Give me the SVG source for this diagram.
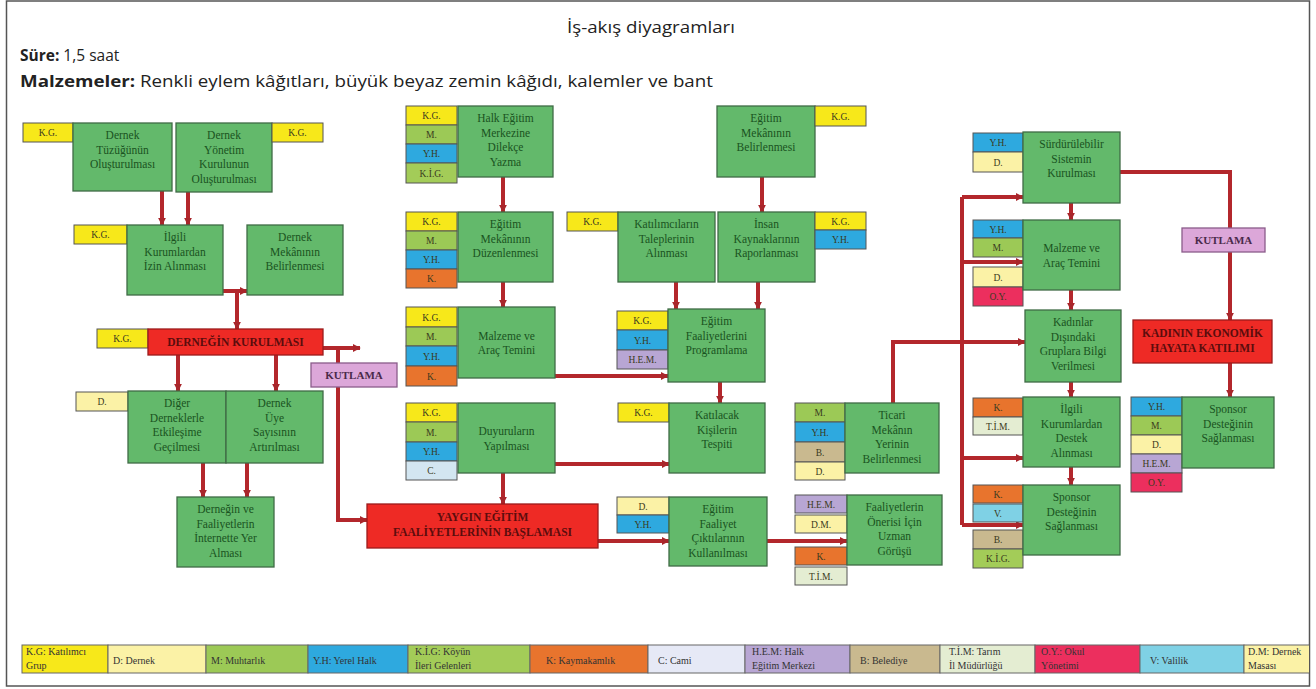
<svg xmlns="http://www.w3.org/2000/svg" width="1316" height="689" viewBox="0 0 1316 689">
<defs>
<marker id="ah" viewBox="0 0 10 10" refX="9" refY="5" markerWidth="8" markerHeight="8" markerUnits="userSpaceOnUse" orient="auto"><path d="M0,0 L10,5 L0,10 z" fill="#a8262b"/></marker>
<clipPath id="frameclip"><rect x="7" y="1" width="1302" height="685"/></clipPath>
<style>
.hd{font-family:"Open Sans","Noto Sans",sans-serif;font-size:15.5px;fill:#222}
.n{fill:#63b96b;stroke:#3f6b45;stroke-width:1.3}
.nt{font-family:"Liberation Serif",serif;font-size:11.5px;fill:#1a5321;text-anchor:middle}
.r{fill:#ee2a25;stroke:#9c1b1b;stroke-width:1.3}
.rt{font-family:"Liberation Serif",serif;font-size:11.5px;font-weight:bold;fill:#5b0d0d;text-anchor:middle}
.ku{fill:#dca7d9;stroke:#8a5c8a;stroke-width:1.3}
.kt{font-family:"Liberation Serif",serif;font-size:11px;font-weight:bold;fill:#4a2a4a;text-anchor:middle}
.t{stroke:#555;stroke-width:1}
.tt{font-family:"Liberation Serif",serif;font-size:9.5px;text-anchor:middle;fill:#3a3a20}
.kg{fill:#f7e81a}.d{fill:#fbf2a6}.m{fill:#9cc956}.yh{fill:#2ea9df}.kig{fill:#a3cc58}.k{fill:#e8742d}.c{fill:#d3e6f1}.hem{fill:#b8a6d4}.b{fill:#c9b98f}.tim{fill:#e4edd2}.oy{fill:#ec2f5e}.v{fill:#7fd1e5}.dm{fill:#fbf2a6}
.con{fill:none;stroke:#b3272c;stroke-width:4}
.lg{stroke:#666;stroke-width:1}
.lt{font-family:"Liberation Serif",serif;font-size:10px;fill:#333}
</style>
</defs>
<rect x="6.5" y="1" width="1303" height="685" fill="#fff" stroke="#555" stroke-width="1.5"/>
<g id="header">
<text class="hd" x="651" y="33" text-anchor="middle" textLength="168" lengthAdjust="spacingAndGlyphs">İş-akış diyagramları</text>
<text class="hd" x="20" y="61"><tspan font-weight="bold">Süre:</tspan> 1,5 saat</text>
<text class="hd" x="20" y="87" textLength="693" lengthAdjust="spacingAndGlyphs"><tspan font-weight="bold">Malzemeler:</tspan> Renkli eylem kâğıtları, büyük beyaz zemin kâğıdı, kalemler ve bant</text>
</g>
<g id="connectors">
<path class="con" d="M162,191 V225" marker-end="url(#ah)"/>
<path class="con" d="M188,192 V225" marker-end="url(#ah)"/>
<path class="con" d="M223,291 H247" marker-end="url(#ah)"/>
<path class="con" d="M237,291 V329" marker-end="url(#ah)"/>
<path class="con" d="M323,348 H360" marker-end="url(#ah)"/>
<path class="con" d="M338,348 V520 H367" marker-end="url(#ah)"/>
<path class="con" d="M178,355 V391" marker-end="url(#ah)"/>
<path class="con" d="M276,355 V391" marker-end="url(#ah)"/>
<path class="con" d="M203,463 V497" marker-end="url(#ah)"/>
<path class="con" d="M247,463 V497" marker-end="url(#ah)"/>
<path class="con" d="M503,177 V212" marker-end="url(#ah)"/>
<path class="con" d="M503,282 V307" marker-end="url(#ah)"/>
<path class="con" d="M555,376 H668" marker-end="url(#ah)"/>
<path class="con" d="M555,464 H669" marker-end="url(#ah)"/>
<path class="con" d="M503,473 V504" marker-end="url(#ah)"/>
<path class="con" d="M598,541 H669" marker-end="url(#ah)"/>
<path class="con" d="M762,177 V212" marker-end="url(#ah)"/>
<path class="con" d="M676,282 V309" marker-end="url(#ah)"/>
<path class="con" d="M758,282 V309" marker-end="url(#ah)"/>
<path class="con" d="M720,382 V403" marker-end="url(#ah)"/>
<path class="con" d="M767,541 H847" marker-end="url(#ah)"/>
<path class="con" d="M893,403 V342 H1025" marker-end="url(#ah)"/>
<path class="con" d="M962,525 V197"/>
<path class="con" d="M962,197 H1023" marker-end="url(#ah)"/>
<path class="con" d="M962,262 H1023" marker-end="url(#ah)"/>
<path class="con" d="M962,458 H1023" marker-end="url(#ah)"/>
<path class="con" d="M962,525 H1023" marker-end="url(#ah)"/>
<path class="con" d="M1120,172 H1230 V320" marker-end="url(#ah)"/>
<path class="con" d="M1230,363 V397" marker-end="url(#ah)"/>
<path class="con" d="M1071,203 V220" marker-end="url(#ah)"/>
<path class="con" d="M1071,290 V310" marker-end="url(#ah)"/>
<path class="con" d="M1071,382 V397" marker-end="url(#ah)"/>
<path class="con" d="M1071,467 V485" marker-end="url(#ah)"/>
</g>
<g id="n1"><rect class="t kg" x="23" y="123" width="50" height="19"/><text class="tt" x="48" y="136">K.G.</text><rect class="n" x="73" y="123" width="99" height="68"/><text class="nt" x="122.5" y="139">Dernek</text><text class="nt" x="122.5" y="153.5">Tüzüğünün</text><text class="nt" x="122.5" y="168">Oluşturulması</text></g>
<g id="n2"><rect class="n" x="176" y="123" width="96" height="69"/><text class="nt" x="224" y="139">Dernek</text><text class="nt" x="224" y="153.5">Yönetim</text><text class="nt" x="224" y="168">Kurulunun</text><text class="nt" x="224" y="182.5">Oluşturulması</text><rect class="t kg" x="272" y="123" width="51" height="19"/><text class="tt" x="297.5" y="136">K.G.</text></g>
<g id="n3"><rect class="t kg" x="74" y="225" width="53" height="19"/><text class="tt" x="100.5" y="238">K.G.</text><rect class="n" x="127" y="225" width="96" height="70"/><text class="nt" x="175" y="241">İlgili</text><text class="nt" x="175" y="255.5">Kurumlardan</text><text class="nt" x="175" y="270">İzin Alınması</text></g>
<g id="n4"><rect class="n" x="247" y="225" width="96" height="70"/><text class="nt" x="295" y="241">Dernek</text><text class="nt" x="295" y="255.5">Mekânının</text><text class="nt" x="295" y="270">Belirlenmesi</text></g>
<g id="n5"><rect class="t kg" x="97" y="329" width="51" height="19"/><text class="tt" x="122.5" y="342">K.G.</text><rect class="r" x="148" y="329" width="175" height="26"/><text class="rt" x="235.5" y="346">DERNEĞİN KURULMASI</text></g>
<g id="kutlama1"><rect class="ku" x="311" y="363" width="86" height="24"/><text class="kt" x="354" y="379">KUTLAMA</text></g>
<g id="n6"><rect class="t d" x="76" y="392" width="52" height="19"/><text class="tt" x="102" y="405">D.</text><rect class="n" x="128" y="391" width="98" height="72"/><text class="nt" x="177" y="407">Diğer</text><text class="nt" x="177" y="421.5">Derneklerle</text><text class="nt" x="177" y="436">Etkileşime</text><text class="nt" x="177" y="450.5">Geçilmesi</text></g>
<g id="n7"><rect class="n" x="226" y="391" width="97" height="72"/><text class="nt" x="274.5" y="407">Dernek</text><text class="nt" x="274.5" y="421.5">Üye</text><text class="nt" x="274.5" y="436">Sayısının</text><text class="nt" x="274.5" y="450.5">Artırılması</text></g>
<g id="n8"><rect class="n" x="177" y="497" width="97" height="70"/><text class="nt" x="225.5" y="513">Derneğin ve</text><text class="nt" x="225.5" y="527.5">Faaliyetlerin</text><text class="nt" x="225.5" y="542">İnternette Yer</text><text class="nt" x="225.5" y="556.5">Alması</text></g>
<g id="n13"><rect class="r" x="367" y="504" width="231" height="44"/><text class="rt" x="482.5" y="521">YAYGIN EĞİTİM</text><text class="rt" x="482.5" y="536">FAALİYETLERİNİN BAŞLAMASI</text></g>
<g id="n9"><rect class="t kg" x="406" y="106" width="51" height="19"/><text class="tt" x="431.5" y="119">K.G.</text><rect class="t m" x="406" y="125" width="51" height="19"/><text class="tt" x="431.5" y="138">M.</text><rect class="t yh" x="406" y="144" width="51" height="19"/><text class="tt" x="431.5" y="157">Y.H.</text><rect class="t kig" x="406" y="163" width="51" height="20"/><text class="tt" x="431.5" y="176.5">K.İ.G.</text><rect class="n" x="458" y="106" width="95" height="71"/><text class="nt" x="505.5" y="122">Halk Eğitim</text><text class="nt" x="505.5" y="136.5">Merkezine</text><text class="nt" x="505.5" y="151">Dilekçe</text><text class="nt" x="505.5" y="165.5">Yazma</text></g>
<g id="n10"><rect class="t kg" x="406" y="212" width="51" height="19"/><text class="tt" x="431.5" y="225">K.G.</text><rect class="t m" x="406" y="231" width="51" height="19"/><text class="tt" x="431.5" y="244">M.</text><rect class="t yh" x="406" y="250" width="51" height="19"/><text class="tt" x="431.5" y="263">Y.H.</text><rect class="t k" x="406" y="269" width="51" height="19"/><text class="tt" x="431.5" y="282">K.</text><rect class="n" x="458" y="212" width="95" height="70"/><text class="nt" x="505.5" y="228">Eğitim</text><text class="nt" x="505.5" y="242.5">Mekânının</text><text class="nt" x="505.5" y="257">Düzenlenmesi</text></g>
<g id="n11"><rect class="t kg" x="406" y="307" width="51" height="20"/><text class="tt" x="431.5" y="320.5">K.G.</text><rect class="t m" x="406" y="327" width="51" height="19"/><text class="tt" x="431.5" y="340">M.</text><rect class="t yh" x="406" y="346" width="51" height="20"/><text class="tt" x="431.5" y="359.5">Y.H.</text><rect class="t k" x="406" y="366" width="51" height="20"/><text class="tt" x="431.5" y="379.5">K.</text><rect class="n" x="458" y="307" width="97" height="71"/><text class="nt" x="506.5" y="339.5">Malzeme ve</text><text class="nt" x="506.5" y="354">Araç Temini</text></g>
<g id="n12"><rect class="t kg" x="406" y="403" width="51" height="19"/><text class="tt" x="431.5" y="416">K.G.</text><rect class="t m" x="406" y="422" width="51" height="20"/><text class="tt" x="431.5" y="435.5">M.</text><rect class="t yh" x="406" y="442" width="51" height="19"/><text class="tt" x="431.5" y="455">Y.H.</text><rect class="t c" x="406" y="461" width="51" height="19"/><text class="tt" x="431.5" y="474">C.</text><rect class="n" x="458" y="403" width="97" height="70"/><text class="nt" x="506.5" y="435">Duyuruların</text><text class="nt" x="506.5" y="449.5">Yapılması</text></g>
<g id="n14"><rect class="n" x="717" y="106" width="98" height="71"/><text class="nt" x="766" y="122">Eğitim</text><text class="nt" x="766" y="136.5">Mekânının</text><text class="nt" x="766" y="151">Belirlenmesi</text><rect class="t kg" x="815" y="106" width="51" height="20"/><text class="tt" x="840.5" y="119.5">K.G.</text></g>
<g id="n15"><rect class="t kg" x="567" y="212" width="51" height="19"/><text class="tt" x="592.5" y="225">K.G.</text><rect class="n" x="618" y="212" width="97" height="70"/><text class="nt" x="666.5" y="228">Katılımcıların</text><text class="nt" x="666.5" y="242.5">Taleplerinin</text><text class="nt" x="666.5" y="257">Alınması</text></g>
<g id="n16"><rect class="n" x="718" y="212" width="97" height="70"/><text class="nt" x="766.5" y="228">İnsan</text><text class="nt" x="766.5" y="242.5">Kaynaklarının</text><text class="nt" x="766.5" y="257">Raporlanması</text><rect class="t kg" x="815" y="212" width="51" height="18"/><text class="tt" x="840.5" y="224.5">K.G.</text><rect class="t yh" x="815" y="230" width="51" height="19"/><text class="tt" x="840.5" y="243">Y.H.</text></g>
<g id="n17"><rect class="t kg" x="617" y="311" width="51" height="19"/><text class="tt" x="642.5" y="324">K.G.</text><rect class="t yh" x="617" y="330" width="51" height="20"/><text class="tt" x="642.5" y="343.5">Y.H.</text><rect class="t hem" x="617" y="350" width="51" height="19"/><text class="tt" x="642.5" y="363">H.E.M.</text><rect class="n" x="668" y="309" width="97" height="73"/><text class="nt" x="716.5" y="325">Eğitim</text><text class="nt" x="716.5" y="339.5">Faaliyetlerini</text><text class="nt" x="716.5" y="354">Programlama</text></g>
<g id="n18"><rect class="t kg" x="618" y="403" width="51" height="19"/><text class="tt" x="643.5" y="416">K.G.</text><rect class="n" x="669" y="403" width="96" height="70"/><text class="nt" x="717" y="419">Katılacak</text><text class="nt" x="717" y="433.5">Kişilerin</text><text class="nt" x="717" y="448">Tespiti</text></g>
<g id="n19"><rect class="t d" x="617" y="497" width="52" height="18"/><text class="tt" x="643" y="509.5">D.</text><rect class="t yh" x="617" y="515" width="52" height="18"/><text class="tt" x="643" y="527.5">Y.H.</text><rect class="n" x="669" y="497" width="98" height="69"/><text class="nt" x="718" y="513">Eğitim</text><text class="nt" x="718" y="527.5">Faaliyet</text><text class="nt" x="718" y="542">Çıktılarının</text><text class="nt" x="718" y="556.5">Kullanılması</text></g>
<g id="n20"><rect class="t hem" x="795" y="495" width="52" height="18"/><text class="tt" x="821" y="507.5">H.E.M.</text><rect class="t dm" x="795" y="515" width="52" height="18"/><text class="tt" x="821" y="527.5">D.M.</text><rect class="t k" x="795" y="547" width="52" height="18"/><text class="tt" x="821" y="559.5">K.</text><rect class="t tim" x="795" y="567" width="52" height="18"/><text class="tt" x="821" y="579.5">T.İ.M.</text><rect class="n" x="847" y="495" width="95" height="70"/><text class="nt" x="894.5" y="511">Faaliyetlerin</text><text class="nt" x="894.5" y="525.5">Önerisi İçin</text><text class="nt" x="894.5" y="540">Uzman</text><text class="nt" x="894.5" y="554.5">Görüşü</text></g>
<g id="n21"><rect class="t m" x="795" y="403" width="50" height="19"/><text class="tt" x="820" y="416">M.</text><rect class="t yh" x="795" y="422" width="50" height="20"/><text class="tt" x="820" y="435.5">Y.H.</text><rect class="t b" x="795" y="442" width="50" height="20"/><text class="tt" x="820" y="455.5">B.</text><rect class="t d" x="795" y="462" width="50" height="18"/><text class="tt" x="820" y="474.5">D.</text><rect class="n" x="845" y="403" width="94" height="70"/><text class="nt" x="892" y="419">Ticari</text><text class="nt" x="892" y="433.5">Mekânın</text><text class="nt" x="892" y="448">Yerinin</text><text class="nt" x="892" y="462.5">Belirlenmesi</text></g>
<g id="n22"><rect class="t yh" x="973" y="133" width="50" height="19"/><text class="tt" x="998" y="146">Y.H.</text><rect class="t d" x="973" y="152" width="50" height="20"/><text class="tt" x="998" y="165.5">D.</text><rect class="n" x="1023" y="132" width="97" height="71"/><text class="nt" x="1071.5" y="148">Sürdürülebilir</text><text class="nt" x="1071.5" y="162.5">Sistemin</text><text class="nt" x="1071.5" y="177">Kurulması</text></g>
<g id="n23"><rect class="t yh" x="973" y="220" width="50" height="18"/><text class="tt" x="998" y="232.5">Y.H.</text><rect class="t m" x="973" y="238" width="50" height="19"/><text class="tt" x="998" y="251">M.</text><rect class="t d" x="973" y="267" width="50" height="20"/><text class="tt" x="998" y="280.5">D.</text><rect class="t oy" x="973" y="287" width="50" height="19"/><text class="tt" x="998" y="300">O.Y.</text><rect class="n" x="1023" y="220" width="97" height="70"/><text class="nt" x="1071.5" y="252">Malzeme ve</text><text class="nt" x="1071.5" y="266.5">Araç Temini</text></g>
<g id="n24"><rect class="n" x="1025" y="310" width="96" height="72"/><text class="nt" x="1073" y="326">Kadınlar</text><text class="nt" x="1073" y="340.5">Dışındaki</text><text class="nt" x="1073" y="355">Gruplara Bilgi</text><text class="nt" x="1073" y="369.5">Verilmesi</text></g>
<g id="n25"><rect class="t k" x="973" y="398" width="50" height="19"/><text class="tt" x="998" y="411">K.</text><rect class="t tim" x="973" y="417" width="50" height="18"/><text class="tt" x="998" y="429.5">T.İ.M.</text><rect class="n" x="1023" y="397" width="97" height="70"/><text class="nt" x="1071.5" y="413">İlgili</text><text class="nt" x="1071.5" y="427.5">Kurumlardan</text><text class="nt" x="1071.5" y="442">Destek</text><text class="nt" x="1071.5" y="456.5">Alınması</text></g>
<g id="n26"><rect class="t k" x="973" y="485" width="50" height="18"/><text class="tt" x="998" y="497.5">K.</text><rect class="t v" x="973" y="504" width="50" height="18"/><text class="tt" x="998" y="516.5">V.</text><rect class="t b" x="973" y="530" width="50" height="19"/><text class="tt" x="998" y="543">B.</text><rect class="t kig" x="973" y="549" width="50" height="19"/><text class="tt" x="998" y="562">K.İ.G.</text><rect class="n" x="1023" y="485" width="97" height="70"/><text class="nt" x="1071.5" y="501">Sponsor</text><text class="nt" x="1071.5" y="515.5">Desteğinin</text><text class="nt" x="1071.5" y="530">Sağlanması</text></g>
<g id="kutlama2"><rect class="ku" x="1182" y="228" width="83" height="24"/><text class="kt" x="1223.5" y="244">KUTLAMA</text></g>
<g id="n27"><rect class="r" x="1133" y="320" width="139" height="43"/><text class="rt" x="1202.5" y="337">KADININ EKONOMİK</text><text class="rt" x="1202.5" y="352">HAYATA KATILIMI</text></g>
<g id="n28"><rect class="t yh" x="1131" y="397" width="51" height="19"/><text class="tt" x="1156.5" y="410">Y.H.</text><rect class="t m" x="1131" y="416" width="51" height="19"/><text class="tt" x="1156.5" y="429">M.</text><rect class="t d" x="1131" y="435" width="51" height="19"/><text class="tt" x="1156.5" y="448">D.</text><rect class="t hem" x="1131" y="454" width="51" height="19"/><text class="tt" x="1156.5" y="467">H.E.M.</text><rect class="t oy" x="1131" y="473" width="51" height="19"/><text class="tt" x="1156.5" y="486">O.Y.</text><rect class="n" x="1182" y="397" width="92" height="71"/><text class="nt" x="1228" y="413">Sponsor</text><text class="nt" x="1228" y="427.5">Desteğinin</text><text class="nt" x="1228" y="442">Sağlanması</text></g>
<g id="legend" clip-path="url(#frameclip)">
<rect class="lg kg" x="22" y="645" width="86" height="28"/><text class="lt" x="26" y="655">K.G: Katılımcı</text><text class="lt" x="26" y="669">Grup</text>
<rect class="lg d" x="108" y="645" width="98" height="28"/><text class="lt" x="113" y="664">D: Dernek</text>
<rect class="lg m" x="206" y="645" width="102" height="28"/><text class="lt" x="211" y="664">M: Muhtarlık</text>
<rect class="lg yh" x="308" y="645" width="100" height="28"/><text class="lt" x="313" y="664">Y.H: Yerel Halk</text>
<rect class="lg kig" x="408" y="645" width="122" height="28"/><text class="lt" x="415" y="655">K.İ.G: Köyün</text><text class="lt" x="415" y="669">İleri Gelenleri</text>
<rect class="lg k" x="530" y="645" width="118" height="28"/><text class="lt" x="546" y="664">K: Kaymakamlık</text>
<rect class="lg" x="648" y="645" width="97" height="28" fill="#e6e9f6"/><text class="lt" x="658" y="664">C: Cami</text>
<rect class="lg hem" x="745" y="645" width="105" height="28"/><text class="lt" x="752" y="655">H.E.M: Halk</text><text class="lt" x="752" y="669">Eğitim Merkezi</text>
<rect class="lg b" x="850" y="645" width="90" height="28"/><text class="lt" x="860" y="664">B: Belediye</text>
<rect class="lg tim" x="940" y="645" width="95" height="28"/><text class="lt" x="949" y="655">T.İ.M: Tarım</text><text class="lt" x="949" y="669">İl Müdürlüğü</text>
<rect class="lg oy" x="1035" y="645" width="105" height="28"/><text class="lt" x="1041" y="655">O.Y.: Okul</text><text class="lt" x="1041" y="669">Yönetimi</text>
<rect class="lg v" x="1140" y="645" width="104" height="28"/><text class="lt" x="1150" y="664">V: Valilik</text>
<rect class="lg dm" x="1244" y="645" width="70" height="28"/><text class="lt" x="1248" y="655">D.M: Dernek</text><text class="lt" x="1248" y="669">Masası</text>
</g>
</svg>
